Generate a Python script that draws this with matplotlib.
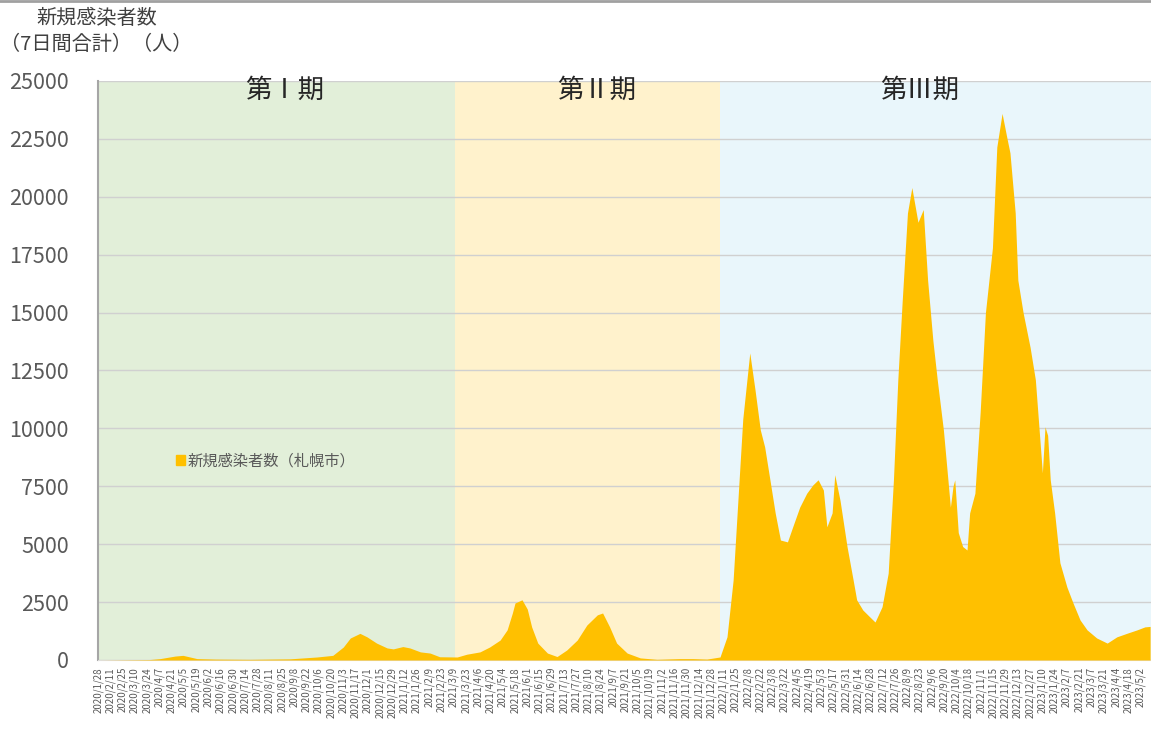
import pandas as pd
import numpy as np
import matplotlib
matplotlib.use("Agg")
import matplotlib.pyplot as plt
from matplotlib.lines import Line2D
from matplotlib.patches import Patch

plt.rcParams['font.family'] = ['Noto Sans CJK JP', 'DejaVu Sans']

START = pd.Timestamp("2020-01-28")

# 7-day totals (Sapporo)
dates = [
    "2020-01-28", "2020-03-27", "2020-04-08", "2020-04-25", "2020-05-04", "2020-05-20",
    "2020-06-10", "2020-07-20", "2020-09-03", "2020-10-04", "2020-10-22", "2020-11-03",
    "2020-11-11", "2020-11-22", "2020-11-30", "2020-12-11", "2020-12-23", "2020-12-30",
    "2021-01-10", "2021-01-18", "2021-01-30", "2021-02-10", "2021-02-21", "2021-03-13",
    "2021-03-24", "2021-04-08", "2021-04-19", "2021-05-01", "2021-05-09", "2021-05-15",
    "2021-05-18", "2021-05-26", "2021-06-01", "2021-06-06", "2021-06-13", "2021-06-24",
    "2021-07-05", "2021-07-16", "2021-07-28", "2021-08-08", "2021-08-20", "2021-08-26",
    "2021-09-03", "2021-09-11", "2021-09-23", "2021-10-08", "2021-10-27", "2021-11-22",
    "2021-12-07", "2021-12-23", "2022-01-07", "2022-01-15", "2022-01-22", "2022-02-02",
    "2022-02-10", "2022-02-16", "2022-02-22", "2022-02-27", "2022-03-05", "2022-03-11",
    "2022-03-17", "2022-03-25", "2022-03-31", "2022-04-08", "2022-04-16", "2022-04-23",
    "2022-04-29", "2022-05-05", "2022-05-09", "2022-05-15", "2022-05-18", "2022-05-24",
    "2022-06-01", "2022-06-08", "2022-06-12", "2022-06-19", "2022-06-27", "2022-07-03",
    "2022-07-11", "2022-07-18", "2022-07-24", "2022-07-29", "2022-08-03", "2022-08-09",
    "2022-08-14", "2022-08-21", "2022-08-27", "2022-09-01", "2022-09-07", "2022-09-12",
    "2022-09-19", "2022-09-27", "2022-09-30", "2022-10-02", "2022-10-06", "2022-10-11",
    "2022-10-16", "2022-10-19", "2022-10-25", "2022-10-31", "2022-11-06", "2022-11-14",
    "2022-11-19", "2022-11-25", "2022-12-01", "2022-12-04", "2022-12-10", "2022-12-13",
    "2022-12-19", "2022-12-27", "2023-01-02", "2023-01-10", "2023-01-13", "2023-01-16",
    "2023-01-19", "2023-01-24", "2023-01-30", "2023-02-07", "2023-02-14", "2023-02-22",
    "2023-03-02", "2023-03-13", "2023-03-25", "2023-04-05", "2023-04-17", "2023-04-28",
    "2023-05-07", "2023-05-13",
]
cases = [
    0, 20, 60, 170, 200, 60,
    40, 30, 50, 130, 200, 560,
    950, 1150, 1000, 730, 520, 480,
    580, 520, 350, 300, 140, 130,
    250, 350, 560, 860, 1300, 2030,
    2460, 2600, 2200, 1430, 730, 300,
    150, 430, 860, 1510, 1950, 2030,
    1430, 730, 300, 90, 30, 60,
    60, 40, 130, 1000, 3450, 10400,
    13260, 11660, 9940, 9200, 7780, 6350,
    5180, 5100, 5750, 6600, 7200, 7560,
    7780, 7340, 5750, 6350, 8000, 6900,
    4900, 3450, 2600, 2160, 1860, 1640,
    2300, 3750, 7780, 12100, 15500, 19300,
    20400, 18900, 19450, 16400, 13800, 12100,
    9940, 6600, 7500, 7780, 5500, 4900,
    4750, 6350, 7200, 10700, 15000, 17800,
    22150, 23600, 22450, 21900, 19300, 16400,
    15000, 13500, 12100, 8080, 10070, 9700,
    7780, 6350, 4200, 3150, 2460, 1730,
    1300, 950, 730, 1000, 1160, 1300,
    1430, 1450,
]

periods = ["第Ⅰ期", "第Ⅱ期", "第Ⅲ期"]
period_starts = ["2020-01-28", "2021-03-10", "2022-01-07"]
period_end = "2023-05-14"
period_label_dates = ["2020-08-28", "2021-08-19", "2022-08-23"]
period_colors = ["#E2EFD9", "#FFF2CC", "#E9F6FB"]

day = (pd.to_datetime(dates) - START).days.values
bounds = [(pd.Timestamp(d) - START).days for d in period_starts + [period_end]]
label_day = (pd.to_datetime(period_label_dates) - START).days.values

tick_dates = pd.date_range("2020-01-28", "2023-05-02", freq="14D")
tick_pos = (tick_dates - START).days.values
tick_lab = [f"{d.year}/{d.month}/{d.day}" for d in tick_dates]

fig = plt.figure(figsize=(11.51, 7.29), dpi=100)
ax = fig.add_axes([98 / 1151, 69 / 729, 1053 / 1151, 579 / 729])

for i in range(3):
    ax.axvspan(bounds[i], bounds[i + 1], color=period_colors[i], lw=0, zorder=0)
    ax.text(label_day[i], 24600, periods[i], ha="center", va="center",
            fontsize=19, color="#262626", zorder=5)

ax.fill_between(day, cases, 0, color="#FFC000", lw=0, zorder=3)

ax.set_ylim(0, 25000)
ax.set_xlim(0, bounds[-1])
ax.set_yticks(np.arange(0, 25001, 2500))
ax.yaxis.grid(True, color="#D0D0D0", lw=1, zorder=1)
ax.set_axisbelow(True)
ax.set_xticks(tick_pos)
ax.set_xticklabels(tick_lab, rotation=90, fontsize=7, color="#595959")
ax.tick_params(axis="x", length=0, pad=5)
ax.tick_params(axis="y", length=0, pad=21, labelsize=15.5, labelcolor="#595959")

for s in ["top", "right"]:
    ax.spines[s].set_visible(False)
ax.spines["left"].set_color("#A6A6A6")
ax.spines["left"].set_linewidth(1.5)
ax.spines["bottom"].set_color("#E0E0E0")

ax.legend(handles=[Patch(color="#FFC000", label="新規感染者数（札幌市）")],
          loc="center left", bbox_to_anchor=(176 / 1151, 1 - 461 / 729),
          bbox_transform=fig.transFigure, frameon=False, fontsize=11,
          handlelength=0.6, handleheight=0.6, handletextpad=0.15,
          labelcolor="#595959", borderpad=0, borderaxespad=0)

fig.text(97 / 1151, 1 - 19 / 729, "新規感染者数", ha="center", va="center", fontsize=14.5, color="#404040")
fig.text(0, 1 - 44 / 729, "（7日間合計）（人）", ha="left", va="center", fontsize=14.5, color="#404040")
fig.add_artist(Line2D([0, 1], [0.998, 0.998], color="#A0A0A0", lw=2))

fig.savefig("out.png", dpi=100)
